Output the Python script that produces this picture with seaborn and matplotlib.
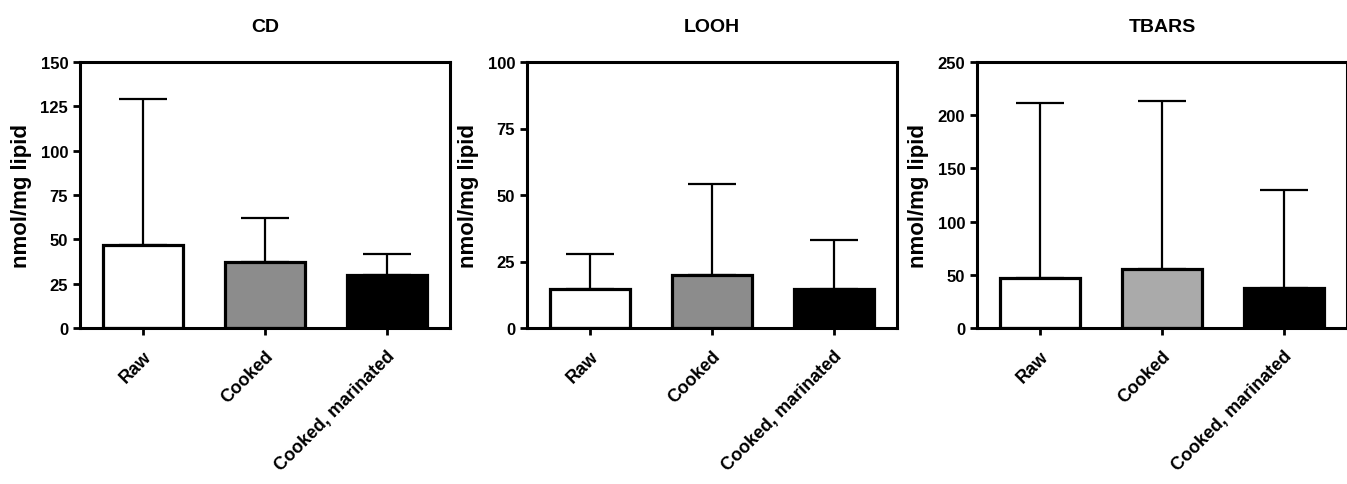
import matplotlib
matplotlib.use("Agg")
import matplotlib.pyplot as plt
import seaborn as sns
import pandas as pd

categories = ["Raw", "Cooked", "Cooked, marinated"]
titles = ["CD", "LOOH", "TBARS"]
cd_mean = [47, 37, 30]
cd_upper = [129, 62, 42]
looh_mean = [14.5, 20, 14.5]
looh_upper = [28, 54, 33]
tbars_mean = [47, 55, 38]
tbars_upper = [211, 213, 130]
ylims = [150, 100, 250]
yticks = [[0, 25, 50, 75, 100, 125, 150], [0, 25, 50, 75, 100], [0, 50, 100, 150, 200, 250]]
colors = [["#ffffff", "#8c8c8c", "#000000"],
          ["#ffffff", "#8c8c8c", "#000000"],
          ["#ffffff", "#aaaaaa", "#000000"]]

sns.set_style("ticks")
plt.rcParams['font.family'] = ['Liberation Sans', 'DejaVu Sans']
plt.rcParams['text.color'] = 'black'
plt.rcParams['axes.labelcolor'] = 'black'
plt.rcParams['axes.titlecolor'] = 'black'

fig = plt.figure(figsize=(13.47, 4.85), dpi=100)
lefts = [80, 527, 977]
width_px = 370
top_px, bottom_px = 63, 329
W, H = 1347, 485

means = [cd_mean, looh_mean, tbars_mean]
uppers = [cd_upper, looh_upper, tbars_upper]

for i in range(3):
    ax = fig.add_axes([lefts[i] / W, 1 - bottom_px / H, width_px / W, (bottom_px - top_px) / H])
    df = pd.DataFrame({"cat": categories, "val": means[i]})
    sns.barplot(data=df, x="cat", y="val", hue="cat", palette=colors[i], legend=False,
                ax=ax, width=0.66, edgecolor="black", linewidth=2.3, errorbar=None)
    err = [u - m for u, m in zip(uppers[i], means[i])]
    ax.errorbar(range(3), means[i], yerr=[[0, 0, 0], err], fmt="none", ecolor="black",
                elinewidth=1.6, capsize=17, capthick=1.6, zorder=1)
    ax.set_xlim(-0.52, 2.52)
    ax.set_ylim(0, ylims[i])
    ax.set_yticks(yticks[i])
    ax.set_yticklabels([str(t) for t in yticks[i]], fontsize=12, fontweight="bold")
    ax.set_xticks(range(3))
    ax.set_xticklabels(categories, rotation=45, ha="right", rotation_mode="anchor",
                       fontsize=13, fontweight="bold")
    ax.set_xlabel("")
    ax.set_ylabel("nmol/mg lipid", fontsize=16, fontweight="bold", labelpad=6)
    ax.set_title(titles[i], fontsize=14, fontweight="bold", pad=22)
    for s in ax.spines.values():
        s.set_linewidth(2.2)
        s.set_color("black")
        s.set_visible(True)
    ax.tick_params(axis="both", width=2, length=5, direction="out", colors="black")
    ax.tick_params(axis="x", pad=9)
    for p in ax.patches:
        p.set_zorder(2)

fig.savefig("out.png", dpi=100)
